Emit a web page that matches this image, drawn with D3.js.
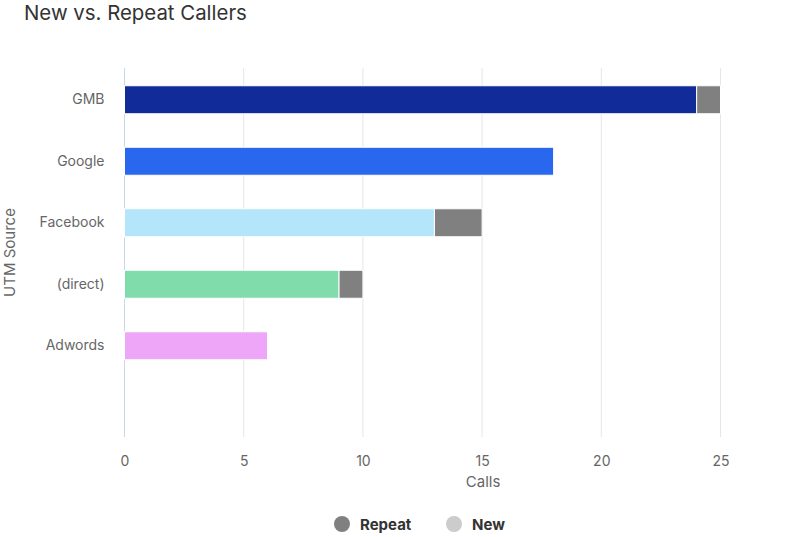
<!DOCTYPE html>
<html><head><meta charset="utf-8">
<script src="https://cdn.jsdelivr.net/npm/d3@7"></script>
<style>body{margin:0;background:#fff;font-family:Inter,"Helvetica Neue",Arial,sans-serif;}</style>
</head><body><svg id="c" width="800" height="537"></svg>
<script>
const categories = ["GMB","Google","Facebook","(direct)","Adwords"];
const newCalls = [24,18,13,9,6];
const repeatCalls = [1,0,2,1,0];
const barColors = ["#112b98","#2967ef","#b3e6fa","#80dcab","#eea7f8"];
const xTicks = [0,5,10,15,20,25];
const legendItems = [{name:"Repeat",color:"#808080"},{name:"New",color:"#cccccc"}];

const F = "Inter,Arial,sans-serif";
const svg = d3.select("#c").attr("font-family",F);
const L=124.5, R=720.5, T=68, B=437;
const x = d3.scaleLinear().domain([0,25]).range([L,R]);
const y = d3.scaleBand().domain(categories).range([T+1, T+1+61.5*5]).paddingInner(0.545).paddingOuter(0.2725);

svg.append("text").attr("x",24).attr("y",20).attr("font-size",20.4).attr("fill","#333").text("New vs. Repeat Callers");

// grid
svg.append("g").selectAll("line").data(xTicks.slice(1)).join("line")
  .attr("x1",d=>x(d)).attr("x2",d=>x(d)).attr("y1",T).attr("y2",B)
  .attr("stroke","#e6e6e6").attr("stroke-width",1);
svg.append("line").attr("x1",L).attr("x2",L).attr("y1",T).attr("y2",B).attr("stroke","#ccd6eb");

// x axis
const xa = svg.append("g").attr("transform",`translate(0,${B})`).call(d3.axisBottom(x).tickValues(xTicks).tickSize(0).tickPadding(19));
xa.select(".domain").remove();
xa.selectAll("text").attr("font-size",14).attr("fill","#666").attr("font-family",F);

// y axis
const ya = svg.append("g").attr("transform",`translate(${L},0)`).call(d3.axisLeft(y).tickSize(0).tickPadding(20));
ya.select(".domain").remove();
ya.selectAll("text").attr("font-size",14).attr("fill","#666").attr("font-family",F);

// bars
const data = categories.map((c,i)=>({c,n:newCalls[i],r:repeatCalls[i],col:barColors[i]}));
svg.append("g").selectAll("rect").data(data).join("rect")
  .attr("x",x(0)).attr("y",d=>y(d.c)).attr("width",d=>x(d.n)-x(0)).attr("height",y.bandwidth())
  .attr("fill",d=>d.col).attr("stroke","#fff").attr("stroke-width",1);
svg.append("g").selectAll("rect").data(data.filter(d=>d.r>0)).join("rect")
  .attr("x",d=>x(d.n)).attr("y",d=>y(d.c)).attr("width",d=>x(d.n+d.r)-x(d.n)).attr("height",y.bandwidth())
  .attr("fill","#808080").attr("stroke","#fff").attr("stroke-width",1);

// axis titles
svg.append("text").attr("x",x(15)+1).attr("y",487).attr("text-anchor","middle").attr("font-size",15).attr("fill","#666").text("Calls");
svg.append("text").attr("transform",`translate(15,${(T+B)/2}) rotate(-90)`).attr("text-anchor","middle").attr("font-size",15).attr("fill","#666").text("UTM Source");

// legend
const lg = svg.append("g");
const lx=[342,454];
legendItems.forEach((it,i)=>{
  lg.append("circle").attr("cx",lx[i]).attr("cy",524).attr("r",8).attr("fill",it.color);
  lg.append("text").attr("x",lx[i]+18).attr("y",529.5).attr("font-size",15).attr("font-weight","bold").attr("fill","#333").text(it.name);
});
</script></body></html>
